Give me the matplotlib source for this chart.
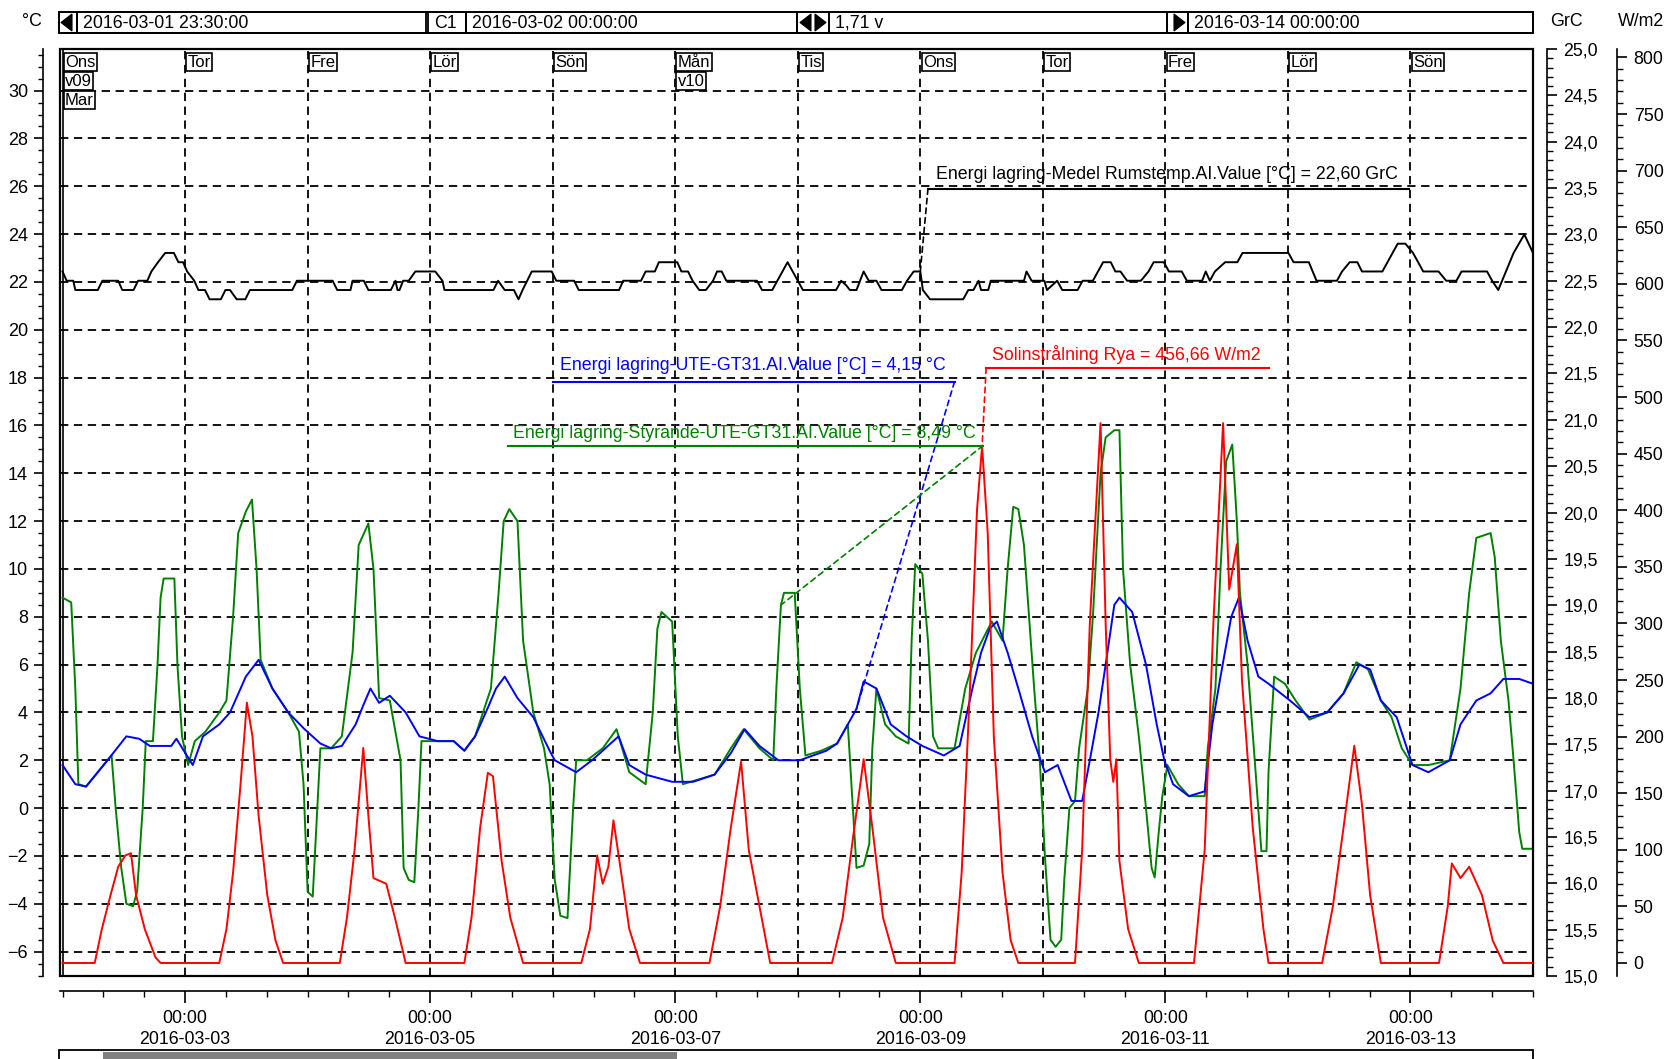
import numpy as np
import pandas as pd
import matplotlib
matplotlib.use("Agg")
import matplotlib.pyplot as plt
from matplotlib.patches import Rectangle, Polygon
from matplotlib.ticker import MultipleLocator, FixedLocator, FuncFormatter
from matplotlib.transforms import blended_transform_factory

plt.rcParams["font.family"] = ["Liberation Sans", "DejaVu Sans"]
plt.rcParams["lines.scale_dashes"] = False

W, H = 1671, 1059

# tidsaxel i timmar räknat från 2016-03-02 00:00
t0 = pd.Timestamp("2016-03-02 00:00")
t_from = pd.Timestamp("2016-03-01 23:30")
t_to = pd.Timestamp("2016-03-14 00:00")
h_from = (t_from - t0) / pd.Timedelta(hours=1)
h_to = (t_to - t0) / pd.Timedelta(hours=1)

# UTE-GT31 [°C]
ute_h = [0, 2.5, 4.6, 8.8, 12.5, 15.0, 17.1, 21.3, 22.3, 25.5,
         27.5, 30.7, 32.8, 35.9, 38.4, 41.1, 44.2, 47.4, 50.5, 52.6,
         54.7, 57.4, 58.9, 60.3, 62.0, 64.1, 67.2, 69.9, 73.5, 76.6,
         78.7, 80.8, 82.9, 84.9, 86.6, 89.1, 92.2, 95.4, 96.4, 100.6,
         103.7, 108.9, 111.0, 114.2, 119.4, 123.5, 127.7, 130.9, 133.6, 136.5,
         140.2, 144.4, 149.6, 151.7, 153.8, 155.5, 156.9, 159.4, 162.2, 165.3,
         168.4, 172.6, 175.7, 178.2, 179.9, 181.6, 183.0, 185.1, 187.2, 189.9,
         192.4, 194.9, 197.6, 199.7, 201.2, 202.9, 204.3, 206.0, 207.0, 209.5,
         212.2, 214.3, 215.8, 217.5, 220.6, 223.7, 225.2, 226.8, 228.9, 230.4,
         232.1, 234.2, 236.2, 240.4, 244.2, 247.7, 250.9, 254.0, 256.1, 258.2,
         261.3, 264.4, 267.5, 271.7, 273.8, 276.9, 279.7, 282.2, 285.3, 288.0]
ute_v = [1.8, 1.0, 0.9, 2.0, 3.0, 2.9, 2.6, 2.6, 2.9, 1.8,
         3.0, 3.5, 4.0, 5.5, 6.2, 5.0, 4.0, 3.3, 2.7, 2.5,
         2.6, 3.5, 4.3, 5.0, 4.4, 4.7, 4.0, 3.0, 2.8, 2.8,
         2.4, 3.0, 4.0, 5.0, 5.5, 4.6, 3.8, 2.4, 2.0, 1.5,
         2.0, 3.0, 1.8, 1.4, 1.1, 1.1, 1.4, 2.3, 3.3, 2.6,
         2.0, 2.0, 2.4, 2.7, 3.5, 4.15, 5.3, 5.0, 3.5, 3.0,
         2.6, 2.2, 2.6, 5.0, 6.5, 7.5, 7.8, 6.5, 5.0, 3.0,
         1.5, 1.8, 0.3, 0.3, 2.0, 4.0, 6.0, 8.5, 8.8, 8.2,
         6.0, 3.5, 2.0, 1.0, 0.5, 0.7, 3.5, 5.5, 8.0, 8.8,
         7.0, 5.5, 5.2, 4.5, 3.8, 4.0, 4.8, 6.0, 5.8, 4.5,
         3.8, 1.8, 1.5, 2.0, 3.5, 4.5, 4.8, 5.4, 5.4, 5.2]

# Styrande-UTE-GT31 [°C]
sty_h = [0, 1.7, 2.5, 3.1, 4.6, 8.8, 9.6, 10.4, 11.5, 12.5,
         13.8, 14.6, 15.7, 16.3, 17.7, 18.6, 19.2, 19.8, 21.9, 22.5,
         23.4, 24.6, 25.9, 28.0, 30.7, 32.1, 33.4, 34.4, 35.9, 37.1,
         38.0, 38.8, 41.1, 44.2, 46.3, 47.2, 48.0, 49.0, 49.9, 50.5,
         52.6, 54.7, 56.8, 58.0, 59.9, 60.9, 62.0, 64.1, 66.2, 66.8,
         67.8, 68.9, 69.7, 70.3, 73.5, 76.6, 78.7, 80.8, 83.9, 85.4,
         86.4, 87.5, 89.1, 90.2, 92.2, 94.3, 95.4, 96.4, 97.5, 98.9,
         100.0, 100.6, 102.7, 105.8, 108.5, 111.0, 114.2, 115.6, 116.5, 117.3,
         119.4, 120.5, 121.5, 124.6, 127.7, 130.9, 133.4, 136.5, 139.2, 139.8,
         140.7, 141.3, 143.4, 144.4, 145.5, 148.6, 151.7, 153.8, 154.8, 155.5,
         156.9, 158.0, 158.6, 159.4, 161.1, 163.2, 165.7, 166.3, 167.0, 168.4,
         169.5, 170.5, 171.5, 174.7, 176.8, 178.9, 182.0, 184.1, 185.1, 186.2,
         187.2, 188.3, 189.3, 190.3, 191.4, 192.4, 193.5, 194.5, 195.6, 196.2,
         197.2, 198.3, 199.1, 200.8, 201.8, 203.3, 204.3, 206.0, 207.0, 207.7,
         209.1, 210.8, 212.2, 213.3, 213.9, 214.7, 215.4, 216.4, 218.5, 220.6,
         223.7, 224.3, 225.8, 226.8, 227.9, 229.1, 230.0, 230.6, 232.1, 233.5,
         234.8, 235.8, 236.2, 237.3, 239.4, 241.5, 244.2, 247.7, 250.9, 253.4,
         255.7, 258.2, 260.3, 262.3, 264.4, 267.5, 271.7, 273.8, 275.5, 276.9,
         279.7, 280.5, 281.7, 283.2, 284.2, 285.3, 285.9, 288.0]
sty_v = [8.8, 8.6, 5.0, 1.0, 0.9, 2.0, 2.2, 0.0, -2.5, -4.0,
         -4.1, -3.5, 0.0, 2.8, 2.8, 6.0, 8.8, 9.6, 9.6, 6.0,
         3.0, 1.8, 2.8, 3.2, 4.0, 4.5, 8.0, 11.5, 12.4, 12.9,
         10.0, 6.2, 5.0, 4.0, 3.2, 1.0, -3.5, -3.7, 0.0, 2.5,
         2.5, 3.0, 6.5, 11.0, 11.9, 10.0, 4.6, 4.5, 2.0, -2.5,
         -3.0, -3.1, 0.0, 2.8, 2.8, 2.8, 2.4, 3.0, 5.0, 9.0,
         12.0, 12.5, 12.0, 7.0, 4.0, 2.5, 1.0, -3.0, -4.5, -4.6,
         0.0, 2.0, 2.0, 2.5, 3.3, 1.5, 1.0, 4.0, 7.5, 8.2,
         7.8, 3.0, 1.0, 1.2, 1.4, 2.5, 3.3, 2.5, 2.0, 5.0,
         8.49, 9.0, 9.0, 5.0, 2.2, 2.4, 2.7, 3.5, 0.0, -2.5,
         -2.4, -1.5, 2.5, 5.0, 3.5, 3.0, 2.7, 7.0, 10.2, 9.8,
         7.0, 3.0, 2.5, 2.5, 5.0, 6.5, 7.8, 7.0, 10.0, 12.6,
         12.5, 11.0, 8.0, 5.0, 2.0, -2.0, -5.5, -5.8, -5.5, -3.0,
         0.0, 0.3, 2.5, 5.0, 8.0, 14.0, 15.5, 15.8, 15.8, 10.0,
         6.0, 3.0, 0.0, -2.5, -2.9, -1.0, 0.5, 1.8, 1.0, 0.5,
         0.5, 2.5, 5.0, 10.0, 14.5, 15.2, 12.0, 9.0, 6.0, 2.0,
         -1.8, -1.8, 1.5, 5.5, 5.2, 4.5, 3.7, 4.0, 4.8, 6.1,
         5.8, 4.5, 3.8, 2.5, 1.8, 1.8, 2.0, 5.0, 9.0, 11.3,
         11.5, 10.5, 7.0, 4.5, 2.0, -1.0, -1.7, -1.7]

# Medel Rumstemp [GrC]
rum_h = [0, 0.8, 2.1, 2.5, 6.9, 7.8, 10.9, 11.7, 13.9, 14.8,
         16.6, 17.4, 18.7, 20.1, 21.8, 22.7, 23.6, 24.4, 25.8, 26.6,
         27.9, 28.8, 31.0, 31.9, 32.8, 34.1, 35.8, 36.7, 45.0, 45.9,
         52.9, 53.8, 56.4, 56.8, 59.0, 59.9, 64.3, 65.2, 65.6, 66.0,
         66.7, 67.8, 69.1, 73.0, 74.4, 74.8, 84.4, 85.3, 86.6, 88.4,
         89.3, 90.1, 91.0, 91.9, 95.8, 96.7, 100.2, 101.1, 109.0, 109.8,
         113.3, 114.2, 116.0, 116.8, 120.4, 121.2, 122.5, 123.4, 124.7, 126.0,
         127.4, 128.2, 129.1, 130.0, 136.0, 137.0, 139.0, 140.0, 142.0, 143.5,
         145.0, 151.5, 152.5, 153.5, 154.2, 155.5, 156.9, 157.9, 159.4, 160.4,
         164.4, 165.4, 166.7, 168.0, 168.5, 169.9, 176.4, 177.4, 178.4, 179.4,
         179.9, 181.3, 181.8, 188.3, 188.8, 189.8, 192.3, 192.8, 194.8, 195.8,
         198.8, 199.8, 201.8, 203.8, 205.3, 206.2, 207.2, 208.5, 211.2, 212.7,
         213.7, 215.7, 216.7, 219.2, 220.2, 223.2, 223.9, 224.7, 225.7, 227.7,
         230.1, 231.1, 240.1, 241.1, 244.1, 245.6, 249.6, 250.6, 252.1, 253.6,
         254.5, 258.5, 259.5, 261.5, 263.0, 264.5, 266.5, 269.5, 271.0, 273.0,
         274.0, 279.0, 280.0, 281.2, 284.2, 286.3, 288.0]
rum_v = [22.6, 22.5, 22.5, 22.4, 22.4, 22.5, 22.5, 22.4, 22.4, 22.5,
         22.5, 22.6, 22.7, 22.8, 22.8, 22.7, 22.7, 22.6, 22.5, 22.4,
         22.4, 22.3, 22.3, 22.4, 22.4, 22.3, 22.3, 22.4, 22.4, 22.5,
         22.5, 22.4, 22.4, 22.5, 22.5, 22.4, 22.4, 22.5, 22.4, 22.4,
         22.5, 22.5, 22.6, 22.6, 22.5, 22.4, 22.4, 22.5, 22.4, 22.4,
         22.3, 22.4, 22.5, 22.6, 22.6, 22.5, 22.5, 22.4, 22.4, 22.5,
         22.5, 22.6, 22.6, 22.7, 22.7, 22.6, 22.6, 22.5, 22.4, 22.4,
         22.5, 22.6, 22.6, 22.5, 22.5, 22.4, 22.4, 22.5, 22.7, 22.55,
         22.4, 22.4, 22.5, 22.45, 22.4, 22.4, 22.6, 22.5, 22.5, 22.4,
         22.4, 22.5, 22.6, 22.6, 22.4, 22.3, 22.3, 22.4, 22.4, 22.5,
         22.4, 22.4, 22.5, 22.5, 22.6, 22.5, 22.5, 22.4, 22.5, 22.4,
         22.4, 22.5, 22.5, 22.7, 22.7, 22.6, 22.6, 22.5, 22.5, 22.6,
         22.7, 22.7, 22.6, 22.6, 22.5, 22.5, 22.6, 22.5, 22.6, 22.7,
         22.7, 22.8, 22.8, 22.7, 22.7, 22.5, 22.5, 22.6, 22.7, 22.7,
         22.6, 22.6, 22.7, 22.9, 22.9, 22.8, 22.6, 22.6, 22.5, 22.5,
         22.6, 22.6, 22.5, 22.4, 22.8, 23.0, 22.8]

# Solinstrålning Rya [W/m2]
sol_h = [0, 6.3, 7.7, 9.4, 10.9, 12.3, 13.4, 14.4, 16.1, 18.2, 19.2,
         30.7, 32.1, 33.4, 34.9, 36.1, 37.2, 38.4, 40.1, 41.7, 43.2,
         54.3, 55.7, 57.2, 58.9, 59.9, 60.9, 63.4, 65.1, 67.2,
         78.7, 80.1, 81.8, 83.3, 84.3, 86.0, 87.7, 90.2,
         101.6, 103.3, 104.7, 105.8, 106.9, 107.9, 109.4, 111.0, 113.1,
         126.7, 128.8, 130.9, 132.9, 134.4, 136.5, 138.6,
         150.7, 152.8, 154.8, 156.9, 158.6, 160.7, 163.2,
         174.7, 176.1, 177.8, 179.1, 180.1, 181.2, 182.4, 184.1, 185.7, 187.2,
         198.3, 199.7, 201.2, 203.3, 204.3, 205.2, 205.8, 206.4, 207.0, 208.7, 210.8,
         221.6, 223.7, 225.4, 227.3, 228.5, 230.0, 231.0, 233.1, 235.2, 236.2,
         246.7, 248.8, 250.9, 253.0, 254.5, 256.1, 258.2,
         269.6, 271.3, 272.1, 273.8, 275.5, 278.0, 280.1, 282.2, 288.0]
sol_v = [0, 0, 30, 60, 85, 95, 97, 60, 30, 5, 0,
         0, 30, 80, 160, 230, 200, 130, 60, 20, 0,
         0, 40, 100, 190, 130, 75, 70, 40, 0,
         0, 40, 120, 168, 165, 90, 40, 0,
         0, 30, 95, 70, 85, 126, 80, 30, 0,
         0, 50, 120, 178, 100, 50, 0,
         0, 40, 110, 180, 120, 40, 0,
         0, 80, 250, 400, 456.66, 380, 200, 80, 20, 0,
         0, 100, 300, 477, 300, 180, 160, 180, 90, 30, 0,
         0, 100, 300, 477, 330, 370, 250, 120, 30, 0,
         0, 50, 120, 192, 140, 60, 0,
         0, 50, 88, 75, 85, 60, 20, 0, 0]

day_names = ["Ons", "Tor", "Fre", "Lör", "Sön", "Mån", "Tis", "Ons", "Tor", "Fre", "Lör", "Sön"]
week_labels = {0: "v09", 5: "v10"}
month_labels = {0: "Mar"}

BLUE, GREEN, RED, BLACK = "#0000ff", "#008000", "#ff0000", "#000000"
FS = 12.8


def fx(px):
    return px / W


def fy(py):
    return 1 - py / H


def comma(fmt):
    return FuncFormatter(lambda v, p: format(v, fmt).replace(".", ","))


fig = plt.figure(figsize=(W / 100, H / 100), dpi=100)
ax = fig.add_axes([fx(60), fy(976), (1533 - 60) / W, (976 - 49) / H])
ax.set_xlim(h_from, h_to)
ax.set_ylim(-7.02, 31.74)

# rutnät
grid_ls = (0, (6, 4))
for v in range(-6, 31, 2):
    ax.axhline(v, color=BLACK, lw=1.3, ls=grid_ls, zorder=1)
for d in range(1, 12):
    ax.axvline(24 * d, color=BLACK, lw=1.3, ls=grid_ls, zorder=1)
ax.axvline(0, color=BLACK, lw=1.2, zorder=1)
ax.add_patch(Rectangle((0, 0), 1, 1, transform=ax.transAxes, fill=False,
                       lw=1.6, ec=BLACK, zorder=6, clip_on=False))

# vänster axel °C och tidsaxel
for s in ("top", "right"):
    ax.spines[s].set_visible(False)
ax.spines["left"].set_position(("outward", 12.5))
ax.spines["bottom"].set_position(("outward", 10.8))
for s in ("left", "bottom"):
    ax.spines[s].set_linewidth(1.2)
ax.yaxis.set_major_locator(MultipleLocator(2))
ax.yaxis.set_minor_locator(MultipleLocator(0.5))
ax.tick_params(axis="y", which="major", length=6.5, width=1.2, pad=4, labelsize=13)
ax.tick_params(axis="y", which="minor", length=3.5, width=1.0)

ax.xaxis.set_major_locator(FixedLocator(np.arange(24, 289, 48)))
ax.xaxis.set_minor_locator(FixedLocator(np.arange(0, 289, 8)))
ax.xaxis.set_major_formatter(FuncFormatter(
    lambda v, p: (t0 + pd.Timedelta(hours=v)).strftime("%H:%M\n%Y-%m-%d")))
ax.tick_params(axis="x", which="major", length=8.5, width=1.2, pad=5, labelsize=12.8)
ax.tick_params(axis="x", which="minor", length=4.5, width=1.0)
for lab in ax.get_xticklabels():
    lab.set_linespacing(1.3)

# höger axlar GrC och W/m2
ax_grc = ax.twinx()
ax_w = ax.twinx()
for a, off in ((ax_grc, 10), (ax_w, 60.5)):
    for s in ("top", "bottom", "left"):
        a.spines[s].set_visible(False)
    a.spines["right"].set_position(("outward", off))
    a.spines["right"].set_linewidth(1.2)
    a.tick_params(axis="y", which="major", length=7, width=1.2, pad=5, labelsize=FS)
    a.tick_params(axis="y", which="minor", length=4, width=1.0)
ax_grc.set_ylim(15, 25)
ax_grc.yaxis.set_major_locator(MultipleLocator(0.5))
ax_grc.yaxis.set_minor_locator(MultipleLocator(0.1))
ax_grc.yaxis.set_major_formatter(comma(".1f"))
ax_w.set_ylim(-11.5, 807.5)
ax_w.yaxis.set_major_locator(FixedLocator(np.arange(0, 801, 50)))
ax_w.yaxis.set_minor_locator(FixedLocator(np.arange(0, 801, 10)))

# kurvor
ax.plot(sty_h, sty_v, color=GREEN, lw=1.4, zorder=3)
ax.plot(ute_h, ute_v, color=BLUE, lw=1.4, zorder=4)
ax_grc.plot(rum_h, rum_v, color=BLACK, lw=1.4)
ax_w.plot(sol_h, sol_v, color=RED, lw=1.4)


# etiketter med understrykning och streckad hänvisningslinje
def tag(text, color, h_text, y_text, h0, h1, y_line, target, h_pt, v_pt):
    ax_w.text(h_text, y_text, text, color=color, fontsize=FS, va="center",
              transform=ax.transData, zorder=8)
    ax_w.plot([h0, h1], [y_line, y_line], color=color, lw=1.5,
              transform=ax.transData, zorder=8)
    ax_w.annotate("", xy=(h_pt, v_pt), xycoords=target.transData,
                  xytext=(h0 if h0 > h_pt else h1, y_line), textcoords=ax.transData,
                  arrowprops=dict(arrowstyle="-", color=color, lw=1.2,
                                  linestyle=(0, (4, 3)), shrinkA=0, shrinkB=0))


tag("Energi lagring-Medel Rumstemp.AI.Value [°C] = 22,60 GrC", BLACK,
    171.0, 26.48, 169.5, 263.8, 25.9, ax_grc, 168.0, 22.6)
tag("Energi lagring-UTE-GT31.AI.Value [°C] = 4,15 °C", BLUE,
    97.5, 18.5, 96.0, 174.7, 17.83, ax, 155.5, 4.15)
tag("Energi lagring-Styrande-UTE-GT31.AI.Value [°C] = 8,49 °C", GREEN,
    88.3, 15.65, 87.2, 180.3, 15.16, ax, 140.7, 8.49)
tag("Solinstrålning Rya = 456,66 W/m2", RED,
    182.0, 18.95, 180.9, 236.2, 18.41, ax_w, 180.1, 456.66)

# veckodagar i rutor överst
top_tr = blended_transform_factory(ax.transData, ax.transAxes)
box = dict(boxstyle="square,pad=0.08", fc="white", ec=BLACK, lw=1.2)
for i, name in enumerate(day_names):
    rows = [name]
    if i in week_labels:
        rows.append(week_labels[i])
    if i in month_labels:
        rows.append(month_labels[i])
    for r, s in enumerate(rows):
        ax_w.text(24 * i + 0.5, 0.994 - r * 0.0205, s, transform=top_tr,
                  fontsize=12, va="top", ha="left", bbox=box, zorder=9)

# rubrikrad med markörer
hdr_y0, hdr_y1 = 12, 33


def hbox(x0, x1, text=None):
    fig.add_artist(Rectangle((fx(x0), fy(hdr_y1)), fx(x1) - fx(x0),
                             fy(hdr_y0) - fy(hdr_y1), transform=fig.transFigure,
                             fill=False, ec=BLACK, lw=1.3))
    if text:
        fig.text(fx(x0 + 6), fy((hdr_y0 + hdr_y1) / 2 + 0.5), text, fontsize=FS,
                 va="center", ha="left")


def tri(pts):
    fig.add_artist(Polygon([(fx(x), fy(y)) for x, y in pts], closed=True,
                           transform=fig.transFigure, fc=BLACK, ec=BLACK, lw=0.8))


hbox(58.6, 1532.5)
hbox(58.6, 76.7)
hbox(76.7, 426.3, t_from.strftime("%Y-%m-%d %H:%M:%S"))
hbox(428.4, 465.7, "C1")
hbox(465.7, 797.1, (t0).strftime("%Y-%m-%d %H:%M:%S"))
hbox(797.1, 829.1)
hbox(829.1, 1167.0, "1,71 v")
hbox(1167.0, 1188.3)
hbox(1188.3, 1532.5, t_to.strftime("%Y-%m-%d %H:%M:%S"))
tri([(61, 22.5), (72, 14), (72, 31)])
tri([(800, 22.5), (811, 14), (811, 31)])
tri([(826, 22.5), (815, 14), (815, 31)])
tri([(1185, 22.5), (1174, 14), (1174, 31)])

fig.text(fx(42), fy(22), "°C", fontsize=FS, ha="right", va="center")
fig.text(fx(1550), fy(22), "GrC", fontsize=FS, ha="left", va="center")
fig.text(fx(1618), fy(22), "W/m2", fontsize=FS, ha="left", va="center")

# rullningslist längst ned
fig.add_artist(Rectangle((fx(58.6), fy(1065)), fx(1532.5) - fx(58.6), fy(1050) - fy(1065),
                         transform=fig.transFigure, fill=False, ec=BLACK, lw=1.3))
fig.add_artist(Rectangle((fx(103), fy(1065)), fx(677) - fx(103), fy(1052) - fy(1065),
                         transform=fig.transFigure, fc="#808080", ec="none"))

fig.savefig("out.png", dpi=100)
